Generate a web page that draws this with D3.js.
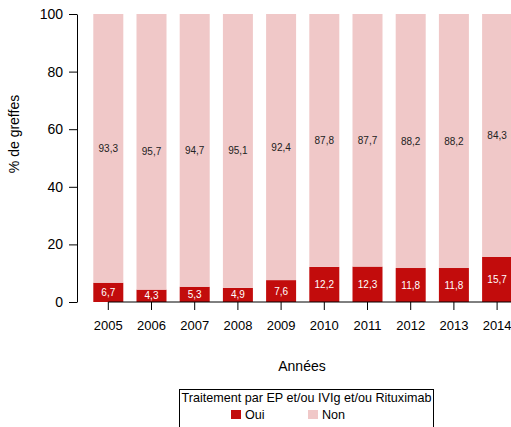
<!DOCTYPE html>
<html>
<head>
<meta charset="utf-8">
<script src="https://cdn.jsdelivr.net/npm/d3@7"></script>
<style>
  body { margin: 0; background: #fff; }
  svg { font-family: "Liberation Sans", Arial, sans-serif; }
</style>
</head>
<body>
<svg id="chart" width="511" height="427"></svg>
<script>
// data
const years = ["2005", "2006", "2007", "2008", "2009", "2010", "2011", "2012", "2013", "2014"];
const oui = [6.7, 4.3, 5.3, 4.9, 7.6, 12.2, 12.3, 11.8, 11.8, 15.7];
const non = [93.3, 95.7, 94.7, 95.1, 92.4, 87.8, 87.7, 88.2, 88.2, 84.3];
const yTicks = [0, 20, 40, 60, 80, 100];
const seriesNames = ["Oui", "Non"];
const colOui = "#c20c0c", colNon = "#f0c8c8";

const svg = d3.select("svg#chart");
const fmt = v => String(v.toFixed(1)).replace(".", ",");

const x = d3.scaleBand()
    .domain(years)
    .range([86.7, 518.7])
    .paddingInner(0.3056)
    .paddingOuter(0.1528);

const y = d3.scaleLinear().domain([0, 100]).range([302, 14]);

// stacked bars
const rows = years.map((yr, i) => ({ year: yr, Oui: oui[i], Non: non[i] }));
const stack = d3.stack().keys(seriesNames)(rows);
const colors = { Oui: colOui, Non: colNon };

stack.forEach(layer => {
    const g = svg.append("g");
    g.selectAll("rect")
        .data(layer)
        .join("rect")
        .attr("x", d => x(d.data.year))
        .attr("y", d => y(d[1]))
        .attr("width", x.bandwidth())
        .attr("height", d => y(d[0]) - y(d[1]))
        .attr("fill", colors[layer.key]);

    g.selectAll("text")
        .data(layer)
        .join("text")
        .attr("x", d => x(d.data.year) + x.bandwidth() / 2)
        .attr("y", d => y((d[0] + d[1]) / 2))
        .attr("dy", "0.35em")
        .attr("text-anchor", "middle")
        .attr("font-size", 10)
        .attr("fill", layer.key === "Oui" ? "#fff" : "#222")
        .text(d => fmt(d.data[layer.key]));
});

// y axis
const yAxis = svg.append("g")
    .attr("transform", "translate(77,0)")
    .call(d3.axisLeft(y).tickValues(yTicks).tickSize(8).tickSizeOuter(0).tickPadding(6));
yAxis.selectAll("text").attr("font-size", 14).attr("fill", "#000").attr("font-family", "Liberation Sans, Arial, sans-serif");
yAxis.selectAll("line, path").attr("stroke", "#000");

// x axis
const xAxis = svg.append("g")
    .attr("transform", "translate(0,302)")
    .call(d3.axisBottom(x).tickSize(8).tickSizeOuter(0).tickPadding(11));
xAxis.select(".domain").remove();
xAxis.append("line")
    .attr("x1", x(years[0]) + x.bandwidth() / 2)
    .attr("x2", 511)
    .attr("stroke", "#000");
xAxis.selectAll("line").attr("stroke", "#000");
xAxis.selectAll("text").attr("font-size", 13).attr("fill", "#000").attr("font-family", "Liberation Sans, Arial, sans-serif");

// axis titles
svg.append("text")
    .attr("x", 302).attr("y", 371)
    .attr("text-anchor", "middle")
    .attr("font-size", 14)
    .text("Années");

svg.append("text")
    .attr("transform", "translate(19,134) rotate(-90)")
    .attr("text-anchor", "middle")
    .attr("font-size", 14)
    .text("% de greffes");

// legend
const lg = svg.append("g");
lg.append("rect")
    .attr("x", 179.5).attr("y", 389.5)
    .attr("width", 254).attr("height", 50)
    .attr("fill", "none").attr("stroke", "#000");
lg.append("text")
    .attr("x", 306.5).attr("y", 402)
    .attr("text-anchor", "middle")
    .attr("font-size", 12.6)
    .text("Traitement par EP et/ou IVIg et/ou Rituximab");

const legX = { Oui: 231, Non: 308 };
seriesNames.forEach(k => {
    lg.append("rect")
        .attr("x", legX[k]).attr("y", 410)
        .attr("width", 10).attr("height", 9)
        .attr("fill", colors[k]);
    lg.append("text")
        .attr("x", legX[k] + 14).attr("y", 419)
        .attr("font-size", 12.6)
        .text(k);
});
</script>
</body>
</html>
